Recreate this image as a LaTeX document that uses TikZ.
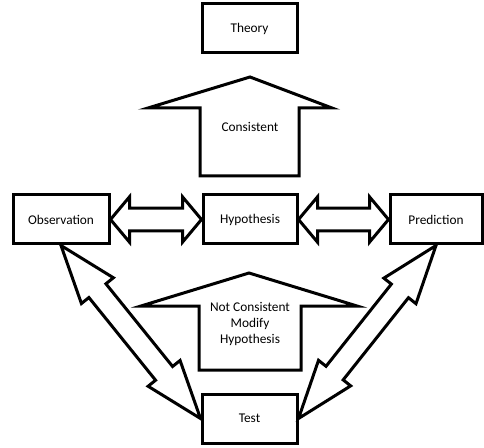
\documentclass[tikz,border=0pt]{standalone}
\usepackage{fontspec}
\setmainfont{Carlito}
\usetikzlibrary{calc}
% block double arrow: #1 from, #2 to, #3 head length, #4 head half width, #5 shaft half width
\newcommand{\dblarrow}[5]{%
	\draw[blockarrow](#1)--($(#1)!#3!(#2)!#4!90:(#2)$)--($(#1)!#3!(#2)!#5!90:(#2)$)
		--($(#2)!#3!(#1)!#5!-90:(#1)$)--($(#2)!#3!(#1)!#4!-90:(#1)$)--(#2)
		--($(#2)!#3!(#1)!#4!90:(#1)$)--($(#2)!#3!(#1)!#5!90:(#1)$)
		--($(#1)!#3!(#2)!#5!-90:(#2)$)--($(#1)!#3!(#2)!#4!-90:(#2)$)--cycle;}

\begin{document}
\begin{tikzpicture}[x=0.75pt,y=-0.75pt,font=\fontsize{10}{12}\selectfont,
		box/.style={draw,line width=2.25pt,minimum height=36.75pt,inner sep=0pt},
		blockarrow/.style={draw,fill=white,line width=2.25pt,line join=miter}]
			\useasboundingbox(0,0)rectangle(484,448);
			% boxes
			\node[box,minimum width=71.25pt](theory)at(249.5,28.5){Theory};
			\node[box,minimum width=72pt](obs)at(61,219.5){Observation};
			\node[box,minimum width=70.5pt](hyp)at(250,219.5){Hypothesis};
			\node[box,minimum width=69pt](pred)at(436,219.5){Prediction};
			\node[box,minimum width=71.25pt](test)at(249.5,418.5){Test};
			% up arrows
			\draw[blockarrow](250,77)--(332,108)--(299,108)--(299,176)--(200,176)--(200,108)--(148,108)--cycle;
			\node(cons)at(250,127){Consistent};
			\draw[blockarrow](249,273)--(357,306)--(301,306)--(301,370)--(199,370)--(199,306)--(141,306)--cycle;
			\node[align=center](notcons)at(250,324){Not Consistent\\Modify\\Hypothesis};
			% double arrows
			\dblarrow{obs.east}{hyp.west}{14.25pt}{17pt}{8.6pt}
			\dblarrow{hyp.east}{pred.west}{14.25pt}{17pt}{8.6pt}
			\dblarrow{obs.south}{test.west}{43.5pt}{15.4pt}{8.2pt}
			\dblarrow{pred.south}{test.east}{43.5pt}{15.4pt}{8.2pt}
		\end{tikzpicture}
\end{document}
